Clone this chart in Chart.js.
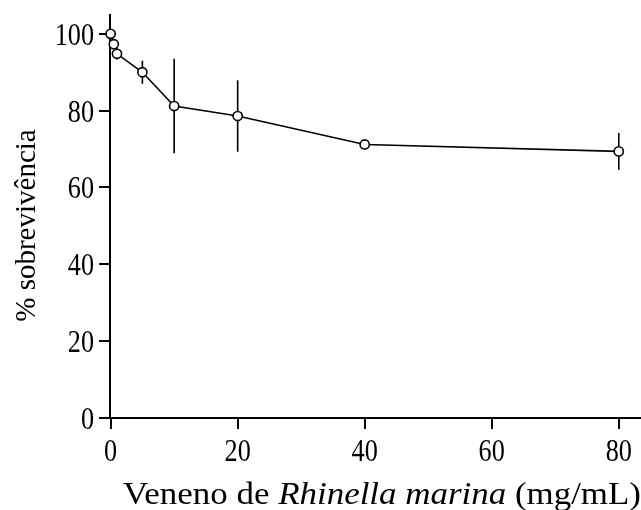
<!DOCTYPE html>
<html>
<head>
<meta charset="utf-8">
<script src="https://cdn.jsdelivr.net/npm/chart.js@4.4.1/dist/chart.umd.min.js"></script>
<style>
  html, body { margin: 0; padding: 0; background: #fff; }
  #wrap { width: 641px; height: 510px; }
</style>
</head>
<body>
<div id="wrap"><canvas id="grafico" width="641" height="510"></canvas></div>
<script>
// dados
const doses = [0, 0.5, 1, 5, 10, 20, 40, 80];
const sobrevivencia = [100, 97.3, 94.8, 90, 81.2, 78.6, 71.2, 69.4];
const erro = [0, 1, 1.5, 3, 12.3, 9.3, 0.8, 4.8];
const xTicks = [0, 20, 40, 60, 80];
const yTicks = [0, 20, 40, 60, 80, 100];

const fonte = '"Liberation Serif"';

// barras de erro (desenhadas antes dos pontos para ficarem atrás dos círculos)
const barrasErro = {
    id: 'barrasErro',
    beforeDatasetsDraw(chart) {
        const ctx = chart.ctx;
        const xs = chart.scales.x, ys = chart.scales.y;
        ctx.save();
        ctx.strokeStyle = '#000';
        ctx.lineWidth = 1.6;
        doses.forEach(function (d, i) {
            if (!erro[i]) return;
            const px = xs.getPixelForValue(d);
            ctx.beginPath();
            ctx.moveTo(px, ys.getPixelForValue(sobrevivencia[i] + erro[i]));
            ctx.lineTo(px, ys.getPixelForValue(sobrevivencia[i] - erro[i]));
            ctx.stroke();
        });
        ctx.restore();
    }
};

// rótulos dos ticks (fonte um pouco estreita como no original) e títulos dos eixos
const textos = {
    id: 'textos',
    afterDraw(chart) {
        const ctx = chart.ctx;
        const xs = chart.scales.x, ys = chart.scales.y;
        const aperto = 0.82;
        ctx.save();
        ctx.fillStyle = '#000';
        ctx.font = '32px ' + fonte;
        ctx.textBaseline = 'alphabetic';

        // eixo y
        ctx.textAlign = 'right';
        yTicks.forEach(function (v) {
            const py = ys.getPixelForValue(v);
            ctx.save();
            ctx.translate(94, py + 11);
            ctx.scale(aperto, 1);
            ctx.fillText(String(v), 0, 0);
            ctx.restore();
        });

        // eixo x
        ctx.textAlign = 'center';
        xTicks.forEach(function (v) {
            const px = xs.getPixelForValue(v);
            ctx.save();
            ctx.translate(px, 461);
            ctx.scale(aperto, 1);
            ctx.fillText(String(v), 0, 0);
            ctx.restore();
        });

        // título y
        ctx.save();
        ctx.font = '29px ' + fonte;
        ctx.textAlign = 'center';
        ctx.translate(35, (ys.top + ys.bottom) / 2 + 9);
        ctx.rotate(-Math.PI / 2);
        ctx.fillText('% sobrevivência', 0, 0);
        ctx.restore();

        // título x com parte em itálico
        const partes = [
            ['Veneno de ', 'normal'],
            ['Rhinella marina', 'italic'],
            [' (mg/mL)', 'normal']
        ];
        ctx.textAlign = 'left';
        let total = 0;
        partes.forEach(function (p) {
            ctx.font = p[1] + ' 32px ' + fonte;
            total += ctx.measureText(p[0]).width;
        });
        const largura = 641 - 123;
        ctx.save();
        ctx.translate(123, 504);
        ctx.scale(largura / total, 1);
        let x = 0;
        partes.forEach(function (p) {
            ctx.font = p[1] + ' 32px ' + fonte;
            ctx.fillText(p[0], x, 0);
            x += ctx.measureText(p[0]).width;
        });
        ctx.restore();

        ctx.restore();
    }
};

new Chart(document.getElementById('grafico'), {
    type: 'line',
    data: {
        datasets: [{
            data: doses.map(function (d, i) { return { x: d, y: sobrevivencia[i] }; }),
            borderColor: '#000',
            borderWidth: 1.6,
            pointRadius: 4.6,
            pointBorderWidth: 1.6,
            pointBackgroundColor: '#fff',
            pointBorderColor: '#000',
            tension: 0,
            fill: false,
            clip: false
        }]
    },
    options: {
        responsive: false,
        animation: false,
        layout: { autoPadding: false, padding: { top: 15, right: 0, bottom: 81, left: 99 } },
        plugins: {
            legend: { display: false },
            tooltip: { enabled: false }
        },
        scales: {
            x: {
                type: 'linear',
                min: -0.1,
                max: 83.5,
                afterBuildTicks(scale) {
                    scale.ticks = xTicks.map(function (v) { return { value: v }; });
                },
                grid: {
                    drawOnChartArea: false,
                    drawTicks: true,
                    tickLength: 11,
                    color: '#000',
                    lineWidth: 2
                },
                border: { display: true, color: '#000', width: 2 },
                ticks: { display: false }
            },
            y: {
                min: 0,
                max: 104.9,
                afterBuildTicks(scale) {
                    scale.ticks = yTicks.map(function (v) { return { value: v }; });
                },
                grid: {
                    drawOnChartArea: false,
                    drawTicks: true,
                    tickLength: 11,
                    color: '#000',
                    lineWidth: 2
                },
                border: { display: true, color: '#000', width: 2 },
                ticks: { display: false }
            }
        }
    },
    plugins: [barrasErro, textos]
});
</script>
</body>
</html>
